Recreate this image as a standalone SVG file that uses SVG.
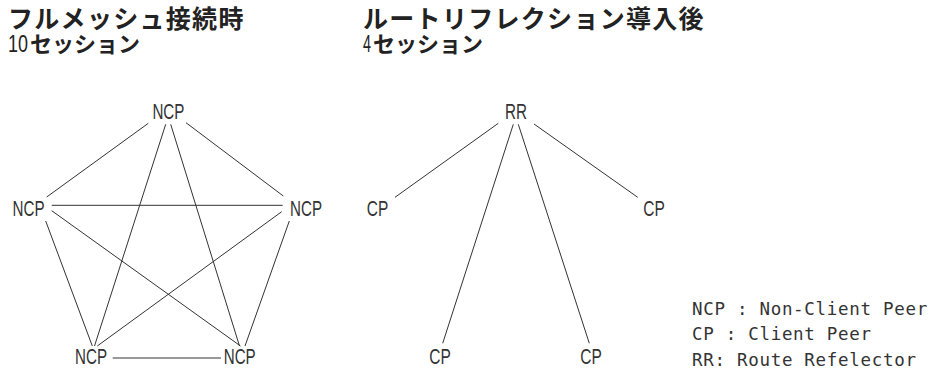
<svg xmlns="http://www.w3.org/2000/svg" width="928" height="374" viewBox="0 0 928 374">
<style>
.title{font-family:"Noto Sans CJK JP","Noto Sans CJK SC",sans-serif;font-weight:bold;font-size:25px;letter-spacing:1.3px;fill:#222}
.sub{font-family:"Noto Sans CJK JP","Noto Sans CJK SC",sans-serif;font-weight:bold;font-size:22px;fill:#222}
.num{font-family:"Liberation Sans",Arial,sans-serif;font-weight:normal;font-size:23px;fill:#222}
.node{font-family:"Liberation Sans",Arial,sans-serif;font-size:22px;fill:#333;text-anchor:middle}
.legend{font-family:"DejaVu Sans Mono","Liberation Mono",monospace;font-size:17.5px;letter-spacing:0.7px;fill:#333}
.conn line{stroke:#333;stroke-width:1;fill:none}
</style>
<rect width="928" height="374" fill="#fff"/>
<g id="title-left">
<text class="title" x="8" y="28">フルメッシュ接続時</text>
<text class="sub" y="52"><tspan class="num" x="8" textLength="20" lengthAdjust="spacingAndGlyphs">10</tspan><tspan x="30">セッション</tspan></text>
</g>
<g id="title-right">
<text class="title" x="363" y="28">ルートリフレクション導入後</text>
<text class="sub" y="52"><tspan class="num" x="363" textLength="8" lengthAdjust="spacingAndGlyphs">4</tspan><tspan x="373">セッション</tspan></text>
</g>
<g id="connectors" class="conn">
<line x1="148.3" y1="123.3" x2="46.7" y2="197"/>
<line x1="186" y1="122.7" x2="283.3" y2="196"/>
<line x1="165.7" y1="124.3" x2="94.5" y2="346"/>
<line x1="170.7" y1="124.3" x2="239.5" y2="346"/>
<line x1="51.7" y1="205.3" x2="282.7" y2="205.3"/>
<line x1="45.7" y1="221" x2="92.3" y2="346"/>
<line x1="51.7" y1="210.7" x2="240.5" y2="346"/>
<line x1="281.7" y1="211.7" x2="97.3" y2="346"/>
<line x1="289.3" y1="221" x2="245" y2="346"/>
<line x1="112.7" y1="358" x2="221" y2="358"/>
<line x1="498.3" y1="123.3" x2="395" y2="197.3"/>
<line x1="534" y1="124" x2="637.7" y2="197.3"/>
<line x1="513.3" y1="124.3" x2="442.7" y2="343.3"/>
<line x1="518.3" y1="124.3" x2="589.3" y2="343.3"/>
</g>
<g id="ncp-top"><text class="node" x="168.4" y="119" textLength="32" lengthAdjust="spacingAndGlyphs">NCP</text></g>
<g id="ncp-left"><text class="node" x="28.5" y="216" textLength="32" lengthAdjust="spacingAndGlyphs">NCP</text></g>
<g id="ncp-right"><text class="node" x="306" y="216" textLength="32" lengthAdjust="spacingAndGlyphs">NCP</text></g>
<g id="ncp-bottom-left"><text class="node" x="91" y="364" textLength="32" lengthAdjust="spacingAndGlyphs">NCP</text></g>
<g id="ncp-bottom-right"><text class="node" x="239.7" y="364" textLength="32" lengthAdjust="spacingAndGlyphs">NCP</text></g>
<g id="rr"><text class="node" x="516" y="119" textLength="22" lengthAdjust="spacingAndGlyphs">RR</text></g>
<g id="cp-left"><text class="node" x="377.5" y="216" textLength="21.5" lengthAdjust="spacingAndGlyphs">CP</text></g>
<g id="cp-right"><text class="node" x="654" y="216" textLength="21.5" lengthAdjust="spacingAndGlyphs">CP</text></g>
<g id="cp-bottom-left"><text class="node" x="440" y="364" textLength="21.5" lengthAdjust="spacingAndGlyphs">CP</text></g>
<g id="cp-bottom-right"><text class="node" x="591" y="364" textLength="21.5" lengthAdjust="spacingAndGlyphs">CP</text></g>
<g id="legend">
<text class="legend" x="692" y="315">NCP : Non-Client Peer</text>
<text class="legend" x="692" y="340">CP : Client Peer</text>
<text class="legend" x="692" y="365.7">RR: Route Refelector</text>
</g>
</svg>
